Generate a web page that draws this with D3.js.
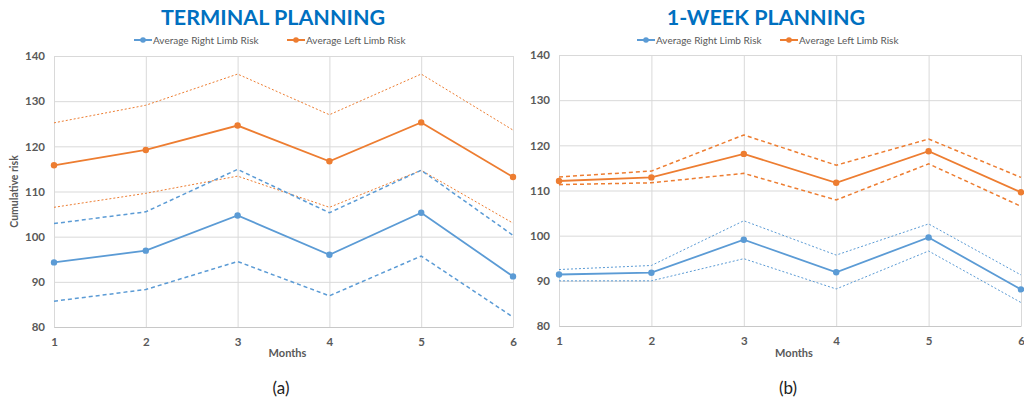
<!DOCTYPE html>
<html>
<head>
<meta charset="utf-8">
<script src="https://cdn.jsdelivr.net/npm/d3@7"></script>
<style>
  html, body { margin: 0; padding: 0; background: #fff; }
  svg { display: block; }
</style>
</head>
<body>
<svg id="chart" width="1024" height="404"></svg>
<script>
// Months on the x axis and y tick values shared by both panels
const months = [1, 2, 3, 4, 5, 6];
const yTicks = [80, 90, 100, 110, 120, 130, 140];

// Panel (a): terminal planning
const termRight      = [94.3, 96.9, 104.7, 96.0, 105.3, 91.2];
const termRightUpper = [102.9, 105.5, 114.9, 105.3, 114.7, 100.3];
const termRightLower = [85.7, 88.3, 94.5, 86.9, 95.7, 82.2];
const termLeft       = [115.8, 119.2, 124.6, 116.7, 125.3, 113.2];
const termLeftUpper  = [125.2, 129.1, 136.0, 127.0, 136.0, 123.6];
const termLeftLower  = [106.5, 109.6, 113.4, 106.5, 114.7, 103.0];

// Panel (b): 1-week planning
const weekRight      = [91.4, 91.8, 99.1, 91.9, 99.6, 88.1];
const weekRightUpper = [92.5, 93.4, 103.3, 95.7, 102.6, 91.3];
const weekRightLower = [90.0, 90.0, 94.9, 88.2, 96.6, 85.2];
const weekLeft       = [112.1, 112.9, 118.1, 111.7, 118.7, 109.6];
const weekLeftUpper  = [113.0, 114.3, 122.3, 115.6, 121.4, 112.9];
const weekLeftLower  = [111.3, 111.7, 113.8, 107.9, 115.9, 106.5];

const legendNames = ["Average Right Limb Risk", "Average Left Limb Risk"];

const BLUE = "#5B9BD5", ORANGE = "#ED7D31";
const TEXT = "#595959", GRID = "#d9d9d9";
const FONT = "Lato, 'Open Sans', sans-serif";

const dotted = { dash: "2,2", width: 1 };
const dashed = { dash: "4,3", width: 1.5 };

const panels = [
  {
    title: "TERMINAL PLANNING", caption: "(a)", yLabel: "Cumulative risk",
    left: 54, right: 513, top: 56, bottom: 327, titleX: 273, captionX: 281,
    legendX: [134, 287],
    bands: [
      { data: termLeftUpper, color: ORANGE, style: dotted },
      { data: termLeftLower, color: ORANGE, style: dotted },
      { data: termRightUpper, color: BLUE, style: dashed },
      { data: termRightLower, color: BLUE, style: dashed }
    ],
    mains: [ { data: termRight, color: BLUE }, { data: termLeft, color: ORANGE } ]
  },
  {
    title: "1-WEEK PLANNING", caption: "(b)", yLabel: null,
    left: 559, right: 1021, top: 55, bottom: 326, titleX: 766, captionX: 788,
    legendX: [637, 780],
    bands: [
      { data: weekLeftUpper, color: ORANGE, style: dashed },
      { data: weekLeftLower, color: ORANGE, style: dashed },
      { data: weekRightUpper, color: BLUE, style: dotted },
      { data: weekRightLower, color: BLUE, style: dotted }
    ],
    mains: [ { data: weekRight, color: BLUE }, { data: weekLeft, color: ORANGE } ]
  }
];

const svg = d3.select("#chart");

panels.forEach(p => {
  const x = d3.scaleLinear().domain([1, 6]).range([p.left, p.right]);
  const y = d3.scaleLinear().domain([80, 140]).range([p.bottom, p.top]);
  const g = svg.append("g");

  // Horizontal gridlines
  g.append("g")
    .attr("transform", `translate(${p.left},0)`)
    .call(d3.axisLeft(y).tickValues(yTicks).tickSize(-(p.right - p.left)).tickFormat(""))
    .call(a => a.select(".domain").remove())
    .call(a => a.selectAll("line").attr("stroke", GRID).attr("stroke-width", 1));

  // Vertical gridlines at each month
  g.append("g")
    .attr("transform", `translate(0,${p.top})`)
    .call(d3.axisBottom(x).tickValues(months).tickSize(p.bottom - p.top).tickFormat(""))
    .call(a => a.select(".domain").remove())
    .call(a => a.selectAll("line").attr("stroke", GRID).attr("stroke-width", 1));

  // Y tick labels
  g.append("g")
    .attr("transform", `translate(${p.left},0)`)
    .call(d3.axisLeft(y).tickValues(yTicks).tickSize(0).tickPadding(9))
    .call(a => a.select(".domain").remove())
    .call(a => a.selectAll("text")
      .attr("fill", TEXT).style("font-family", FONT)
      .style("font-size", "11.5px").style("font-weight", "bold"));

  // X axis line and tick labels
  g.append("g")
    .attr("transform", `translate(0,${p.bottom})`)
    .call(d3.axisBottom(x).tickValues(months).tickSize(0).tickPadding(11).tickFormat(d3.format("d")))
    .call(a => a.select(".domain").attr("stroke", "#c8c8c8").attr("stroke-width", 1.2))
    .call(a => a.selectAll("text")
      .attr("fill", TEXT).style("font-family", FONT)
      .style("font-size", "11.5px").style("font-weight", "bold"));

  const line = d3.line().x((d, i) => x(months[i])).y(d => y(d));

  // Upper / lower bounds
  p.bands.forEach(b => {
    g.append("path").datum(b.data)
      .attr("d", line).attr("fill", "none")
      .attr("stroke", b.color).attr("stroke-width", b.style.width)
      .attr("stroke-dasharray", b.style.dash);
  });

  // Averages with markers
  p.mains.forEach(m => {
    g.append("path").datum(m.data)
      .attr("d", line).attr("fill", "none")
      .attr("stroke", m.color).attr("stroke-width", 1.8);
    g.selectAll(null).data(m.data).enter().append("circle")
      .attr("cx", (d, i) => x(months[i])).attr("cy", d => y(d))
      .attr("r", 3.2).attr("fill", m.color);
  });

  // Title
  g.append("text").attr("x", p.titleX).attr("y", 25)
    .attr("text-anchor", "middle").attr("fill", "#0070C0")
    .style("font-family", FONT).style("font-size", "21.5px").style("font-weight", "bold")
    .text(p.title);

  // Legend
  const legendColors = [BLUE, ORANGE];
  legendNames.forEach((name, i) => {
    const lx = p.legendX[i], ly = 40;
    g.append("line").attr("x1", lx).attr("x2", lx + 18).attr("y1", ly).attr("y2", ly)
      .attr("stroke", legendColors[i]).attr("stroke-width", 2);
    g.append("circle").attr("cx", lx + 9).attr("cy", ly).attr("r", 2.8).attr("fill", legendColors[i]);
    g.append("text").attr("x", lx + 19).attr("y", ly + 3.5)
      .attr("fill", TEXT).style("font-family", FONT).style("font-size", "10px")
      .text(name);
  });

  // Axis titles
  g.append("text").attr("x", (p.left + p.right) / 2 + 4).attr("y", 357)
    .attr("text-anchor", "middle").attr("fill", TEXT)
    .style("font-family", FONT).style("font-size", "11px").style("font-weight", "bold")
    .text("Months");

  if (p.yLabel) {
    g.append("text")
      .attr("transform", `translate(18,${(p.top + p.bottom) / 2}) rotate(-90)`)
      .attr("text-anchor", "middle").attr("fill", TEXT)
      .style("font-family", FONT).style("font-size", "10.5px").style("font-weight", "bold")
      .text(p.yLabel);
  }

  // Panel caption
  g.append("text").attr("x", p.captionX).attr("y", 394)
    .attr("text-anchor", "middle").attr("fill", "#222")
    .style("font-family", FONT).style("font-size", "17px")
    .text(p.caption);
});
</script>
</body>
</html>
